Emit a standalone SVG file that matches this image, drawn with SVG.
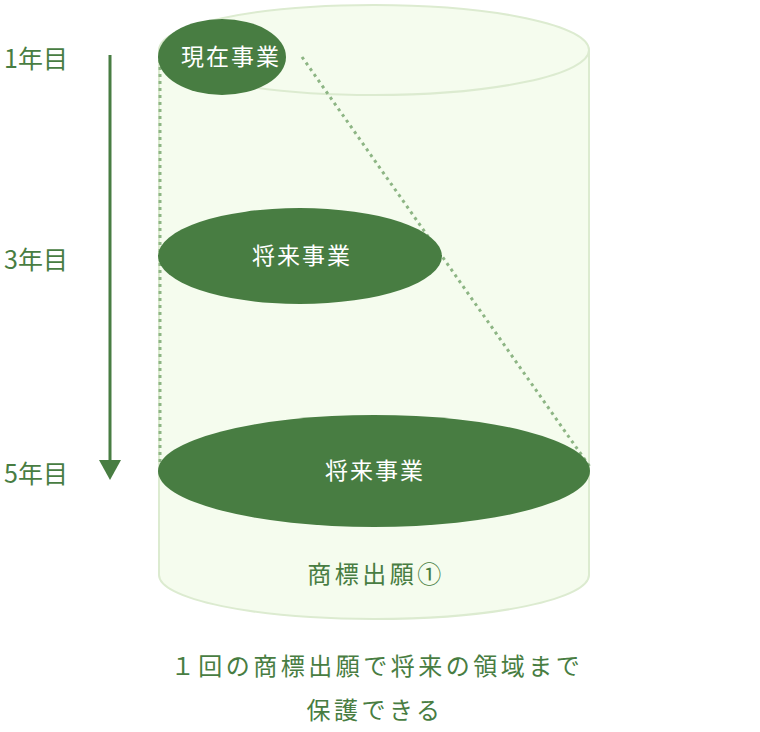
<svg xmlns="http://www.w3.org/2000/svg" width="760" height="732" viewBox="0 0 760 732">
<style>
text{font-family:"Noto Sans CJK JP","Noto Sans",sans-serif;font-weight:400}
.lbl{fill:#487d42;font-size:25px}
.node{fill:#487d42}
.nt{fill:#fff;font-size:23px;text-anchor:middle;letter-spacing:2px}
.cyl{fill:#f5fcee;stroke:#dcebd0;stroke-width:2}
.dot{stroke:#8db584;stroke-width:3;stroke-dasharray:3 4;fill:none}
.cap{fill:#487d42;font-size:24px;text-anchor:middle;letter-spacing:3.5px}
</style>
<g id="cylinder">
<path class="cyl" d="M159,50 L159,575 A215,44 0 0 0 589,575 L589,50"/>
<ellipse class="cyl" cx="374" cy="50" rx="215" ry="45"/>
</g>
<g id="connectors">
<line class="dot" x1="160" y1="60" x2="160" y2="465"/>
<line class="dot" x1="302" y1="57" x2="590" y2="467"/>
<line x1="110" y1="55" x2="110" y2="462" stroke="#487d42" stroke-width="3"/>
<polygon points="99,460 121,460 110,480" fill="#487d42"/>
</g>
<g id="years">
<text class="lbl" x="4" y="68">1年目</text>
<text class="lbl" x="4" y="269">3年目</text>
<text class="lbl" x="4" y="483">5年目</text>
</g>
<g id="n1"><ellipse class="node" cx="222" cy="57" rx="64" ry="38"/><text class="nt" x="231" y="65">現在事業</text></g>
<g id="n2"><ellipse class="node" cx="300" cy="256" rx="142" ry="48"/><text class="nt" x="302" y="264">将来事業</text></g>
<g id="n3"><ellipse class="node" cx="374" cy="471" rx="216" ry="56"/><text class="nt" x="375" y="479">将来事業</text></g>
<text class="cap" x="376" y="583">商標出願①</text>
<text class="cap" x="377" y="675">１回の商標出願で将来の領域まで</text>
<text class="cap" x="375" y="719">保護できる</text>
</svg>
